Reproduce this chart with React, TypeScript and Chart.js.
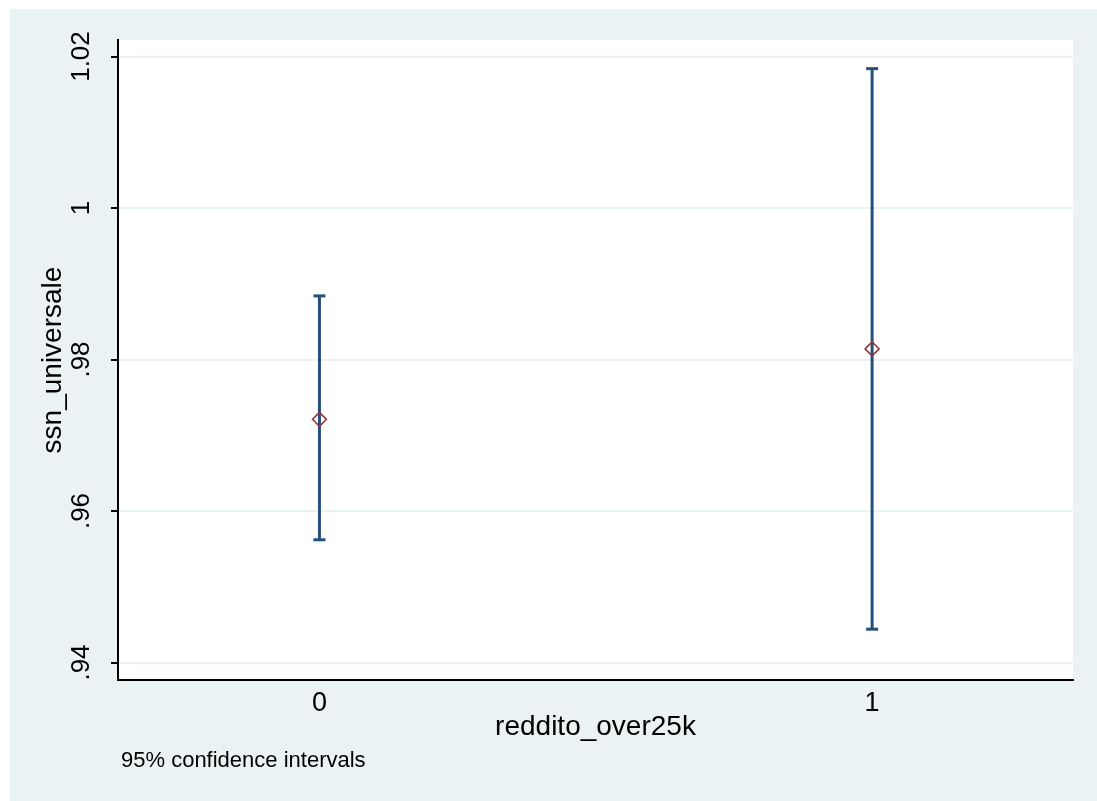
import { useEffect, useRef } from 'react';
import { Chart, registerables } from 'chart.js';

Chart.register(...registerables);

// Group means with 95% confidence intervals
const groups = [0, 1];
const groupLabels = ['0', '1'];
const means = [0.9721, 0.9814];
const lowerCI = [0.9562, 0.9444];
const upperCI = [0.9884, 1.0184];

// Y axis ticks and their labels
const yTicks = [0.94, 0.96, 0.98, 1.0, 1.02];
const yTickLabels = ['.94', '.96', '.98', '1', '1.02'];

const xTitle = 'reddito_over25k';
const yTitle = 'ssn_universale';
const noteText = '95% confidence intervals';

const BG = '#EAF2F3';
const NAVY = '#24507A';
const MAROON = '#90353B';
const FONT_FAMILY = '"Liberation Sans", Arial, Helvetica, sans-serif';

const backgroundPlugin = {
  id: 'stataBackground',
  beforeDraw(chart: any) {
    const { ctx, chartArea, width, height } = chart;
    ctx.save();
    ctx.fillStyle = BG;
    ctx.fillRect(0, 0, width, height);
    ctx.fillStyle = '#FFFFFF';
    ctx.fillRect(chartArea.left, chartArea.top, chartArea.right - chartArea.left, chartArea.bottom - chartArea.top);
    ctx.restore();
  },
};

const labelsPlugin = {
  id: 'stataLabels',
  afterDraw(chart: any) {
    const { ctx } = chart;
    const yScale = chart.scales.y;
    ctx.save();
    ctx.fillStyle = '#000';
    ctx.font = `26px ${FONT_FAMILY}`;
    ctx.textAlign = 'center';
    ctx.textBaseline = 'middle';
    yTicks.forEach((v, i) => {
      const py = yScale.getPixelForValue(v);
      ctx.save();
      ctx.translate(71.5, py);
      ctx.rotate(-Math.PI / 2);
      ctx.fillText(yTickLabels[i], 0, 0);
      ctx.restore();
    });
    ctx.font = `22px ${FONT_FAMILY}`;
    ctx.textAlign = 'left';
    ctx.fillText(noteText, 111, 752);
    ctx.restore();
  },
};

export default function App() {
  const canvasRef = useRef<HTMLCanvasElement | null>(null);

  useEffect(() => {
    document.body.style.margin = '0';
    const canvas = canvasRef.current;
    if (!canvas) return;

    const titleFont = { family: FONT_FAMILY, size: 28 };
    const tickFont = { family: FONT_FAMILY, size: 27 };

    const ciDatasets = groups.map((g, i) => ({
      type: 'line' as const,
      data: [
        { x: g, y: lowerCI[i] },
        { x: g, y: upperCI[i] },
      ],
      showLine: true,
      borderColor: NAVY,
      borderWidth: 3,
      pointStyle: 'line' as const,
      pointRadius: 6,
      pointHoverRadius: 6,
      pointBorderWidth: 3,
      pointBorderColor: NAVY,
      fill: false,
      order: 2,
    }));

    const chart = new Chart(canvas, {
      type: 'scatter',
      data: {
        datasets: [
          ...ciDatasets,
          {
            type: 'scatter' as const,
            data: groups.map((g, i) => ({ x: g, y: means[i] })),
            pointStyle: 'rectRot',
            pointRadius: 7,
            pointHoverRadius: 7,
            borderColor: MAROON,
            backgroundColor: 'rgba(0,0,0,0)',
            borderWidth: 1.5,
            order: 1,
          },
        ] as any,
      },
      options: {
        animation: false,
        responsive: false,
        events: [],
        layout: { padding: { top: 31, right: 24, left: 0, bottom: 0 } },
        plugins: {
          legend: { display: false },
          tooltip: { enabled: false },
        },
        scales: {
          x: {
            type: 'linear',
            min: -0.3645,
            max: 1.3635,
            afterBuildTicks: (s: any) => {
              s.ticks = groups.map((v) => ({ value: v }));
            },
            afterFit: (s: any) => {
              s.height = 121;
            },
            ticks: {
              callback: (v: any) => {
                const idx = groups.indexOf(Number(v));
                return idx >= 0 ? groupLabels[idx] : '';
              },
              font: tickFont,
              color: '#000',
              padding: 7,
              autoSkip: false,
              maxRotation: 0,
            },
            grid: { display: false, drawTicks: false },
            border: { display: true, color: '#000', width: 2 },
            title: {
              display: true,
              text: xTitle,
              font: titleFont,
              color: '#000',
              padding: { top: 0, bottom: 57 },
            },
          },
          y: {
            type: 'linear',
            min: 0.93769,
            max: 1.02218,
            afterBuildTicks: (s: any) => {
              s.ticks = yTicks.map((v) => ({ value: v }));
            },
            afterFit: (s: any) => {
              s.width = 108;
            },
            ticks: { display: false },
            grid: {
              color: BG,
              lineWidth: 2,
              drawTicks: true,
              tickColor: '#000',
              tickWidth: 2,
              tickLength: 7,
            },
            border: { display: true, color: '#000', width: 2 },
            title: {
              display: true,
              text: yTitle,
              font: titleFont,
              color: '#000',
              padding: { top: 26, bottom: 0 },
            },
          },
        },
      },
      plugins: [backgroundPlugin, labelsPlugin],
    });

    return () => chart.destroy();
  }, []);

  return (
    <div style={{ position: 'relative', width: 1097, height: 801, background: '#FFFFFF', overflow: 'hidden' }}>
      <canvas
        ref={canvasRef}
        width={1087}
        height={792}
        style={{ position: 'absolute', left: 10, top: 9, display: 'block' }}
      />
    </div>
  );
}
